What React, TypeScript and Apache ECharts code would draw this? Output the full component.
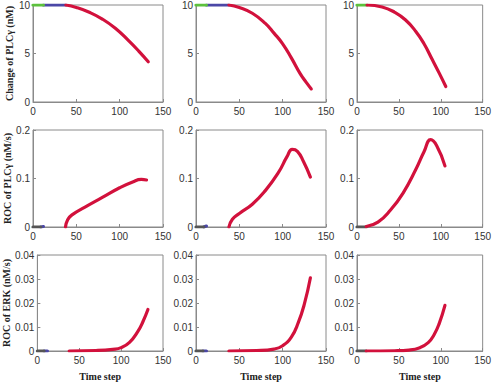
import React, { useEffect, useRef } from "react";
import * as echarts from "echarts";

// Tick labels
const xTicks = [0, 50, 100, 150];
const rowYMax = [10, 0.2, 0.04];
const rowYInterval = [5, 0.1, 0.01];
const rowTitles = ["Change of PLCγ (nM)", "ROC of PLCγ (nM/s)", "ROC of ERK (nM/s)"];
const xTitle = "Time step";

// Row 1: change of PLCγ (nM)
const plc1Green: [number, number][] = [[0, 10], [12, 10]];
const plc1Blue: [number, number][] = [[12, 10], [38, 10]];
const plc1Red: [number, number][] = [[38, 10], [50, 9.75], [65, 9.25], [80, 8.55], [95, 7.6], [110, 6.35], [122, 5.25], [133, 4.15]];

const plc2Green: [number, number][] = [[0, 10], [12, 10]];
const plc2Blue: [number, number][] = [[12, 10], [38, 10]];
const plc2Red: [number, number][] = [[38, 10], [50, 9.75], [65, 9.15], [80, 8.1], [90, 7.1], [100, 6.0], [110, 4.55], [120, 2.95], [127, 2.05], [133, 1.35]];

const plc3Green: [number, number][] = [[0, 10], [12, 10]];
const plc3Red: [number, number][] = [[12, 10], [30, 9.8], [45, 9.25], [58, 8.45], [70, 7.3], [80, 6.0], [90, 4.35], [98, 3.0], [106, 1.6]];

// Row 2: ROC of PLCγ (nM/s)
const rocP1Gray: [number, number][] = [[0, 0], [9, 0]];
const rocP1Blue: [number, number][] = [[9, 0], [12, 0.001]];
const rocP1Red: [number, number][] = [[37.5, 0], [40, 0.015], [45, 0.025], [60, 0.041], [80, 0.061], [100, 0.081], [115, 0.093], [125, 0.098], [131, 0.097]];

const rocP2Gray: [number, number][] = [[0, 0], [9, 0]];
const rocP2Blue: [number, number][] = [[9, 0], [12, 0.002]];
const rocP2Red: [number, number][] = [[38, 0], [42, 0.016], [50, 0.028], [65, 0.047], [80, 0.075], [95, 0.112], [105, 0.145], [111, 0.16], [117, 0.156], [124, 0.135], [132, 0.103]];

const rocP3Gray: [number, number][] = [[0, 0], [11, 0]];
const rocP3Red: [number, number][] = [[11, 0.001], [25, 0.01], [40, 0.035], [55, 0.07], [70, 0.118], [80, 0.155], [88, 0.18], [95, 0.168], [105, 0.126]];

// Row 3: ROC of ERK (nM/s)
const erk1Gray: [number, number][] = [[0, 0], [8, 0]];
const erk1Blue: [number, number][] = [[8, 0], [12, 0]];
const erk1Red: [number, number][] = [[38, 0], [70, 0.0002], [90, 0.0007], [100, 0.0014], [110, 0.0036], [120, 0.0082], [126, 0.0122], [132, 0.0173]];

const erk2Gray: [number, number][] = [[0, 0], [8, 0]];
const erk2Blue: [number, number][] = [[8, 0], [12, 0]];
const erk2Red: [number, number][] = [[38, 0], [70, 0.0002], [90, 0.0008], [100, 0.0022], [110, 0.0058], [118, 0.0118], [125, 0.0195], [132, 0.0305]];

const erk3Gray: [number, number][] = [[0, 0], [11, 0]];
const erk3Red: [number, number][] = [[11, 0], [45, 0.0001], [62, 0.0004], [75, 0.0014], [85, 0.0035], [92, 0.0068], [98, 0.0113], [105, 0.019]];

const GREEN = "#5cc13c";
const BLUE = "#4b47a6";
const GRAY = "#555555";
const RED = "#d2113c";

type Seg = { data: [number, number][]; color: string };

const panels: Seg[][] = [
  [{ data: plc1Green, color: GREEN }, { data: plc1Blue, color: BLUE }, { data: plc1Red, color: RED }],
  [{ data: plc2Green, color: GREEN }, { data: plc2Blue, color: BLUE }, { data: plc2Red, color: RED }],
  [{ data: plc3Green, color: GREEN }, { data: plc3Red, color: RED }],
  [{ data: rocP1Gray, color: GRAY }, { data: rocP1Blue, color: BLUE }, { data: rocP1Red, color: RED }],
  [{ data: rocP2Gray, color: GRAY }, { data: rocP2Blue, color: BLUE }, { data: rocP2Red, color: RED }],
  [{ data: rocP3Gray, color: GRAY }, { data: rocP3Red, color: RED }],
  [{ data: erk1Gray, color: GRAY }, { data: erk1Blue, color: BLUE }, { data: erk1Red, color: RED }],
  [{ data: erk2Gray, color: GRAY }, { data: erk2Blue, color: BLUE }, { data: erk2Red, color: RED }],
  [{ data: erk3Gray, color: GRAY }, { data: erk3Red, color: RED }],
];

const colLefts = [33, 196, 357];
const rowTops = [5, 130, 255];
const gridW = 130;
const gridH = 97;

export default function App() {
  const ref = useRef<HTMLDivElement>(null);
  useEffect(() => {
    if (!ref.current) return;
    const chart = echarts.init(ref.current, null, { renderer: "svg" });
    const grids: any[] = [];
    const xAxes: any[] = [];
    const yAxes: any[] = [];
    const series: any[] = [];
    for (let r = 0; r < 3; r++) {
      for (let c = 0; c < 3; c++) {
        const i = r * 3 + c;
        grids.push({
          left: colLefts[c],
          top: rowTops[r],
          width: gridW,
          height: gridH,
          show: true,
          borderColor: "#8a8a8a",
          borderWidth: 1,
          backgroundColor: "transparent",
        });
        xAxes.push({
          type: "value",
          gridIndex: i,
          min: 0,
          max: 150,
          interval: 50,
          axisLine: { show: true, lineStyle: { color: "#8a8a8a", width: 1 } },
          axisTick: { show: true, inside: true, length: 3, lineStyle: { color: "#8a8a8a" } },
          axisLabel: {
            fontFamily: "Liberation Sans, Arial, sans-serif",
            fontSize: 10,
            color: "#333",
            margin: 4,
            formatter: (v: number) => (xTicks.includes(v) ? String(v) : ""),
          },
          splitLine: { show: false },
          name: r === 2 ? xTitle : "",
          nameLocation: "middle",
          nameGap: 20,
          nameTextStyle: {
            fontFamily: "Liberation Serif, Times New Roman, serif",
            fontWeight: "bold",
            fontSize: 10,
            color: "#222",
          },
        });
        yAxes.push({
          type: "value",
          gridIndex: i,
          min: 0,
          max: rowYMax[r],
          interval: rowYInterval[r],
          axisLine: { show: true, lineStyle: { color: "#8a8a8a", width: 1 } },
          axisTick: { show: true, inside: true, length: 3, lineStyle: { color: "#8a8a8a" } },
          axisLabel: {
            fontFamily: "Liberation Sans, Arial, sans-serif",
            fontSize: 10,
            color: "#333",
            margin: 3,
            formatter: (v: number) => String(parseFloat(v.toFixed(4))),
          },
          splitLine: { show: false },
          name: c === 0 ? rowTitles[r] : "",
          nameLocation: "middle",
          nameGap: 19,
          nameRotate: 90,
          nameTextStyle: {
            fontFamily: "Liberation Serif, Times New Roman, serif",
            fontWeight: "bold",
            fontSize: 10,
            color: "#222",
          },
        });
        panels[i].forEach((seg) => {
          series.push({
            type: "line",
            xAxisIndex: i,
            yAxisIndex: i,
            data: seg.data,
            showSymbol: false,
            symbol: "none",
            smooth: 0.5,
            lineStyle: { color: seg.color, width: 3.2, cap: "round" },
            z: seg.color === RED ? 4 : seg.color === BLUE ? 2 : 3,
          });
        });
      }
    }
    chart.setOption({
      animation: false,
      backgroundColor: "#ffffff",
      grid: grids,
      xAxis: xAxes,
      yAxis: yAxes,
      series,
    });
    return () => chart.dispose();
  }, []);
  return (
    <div
      ref={ref}
      style={{ position: "fixed", left: 0, top: 0, width: 494, height: 382 }}
    />
  );
}
